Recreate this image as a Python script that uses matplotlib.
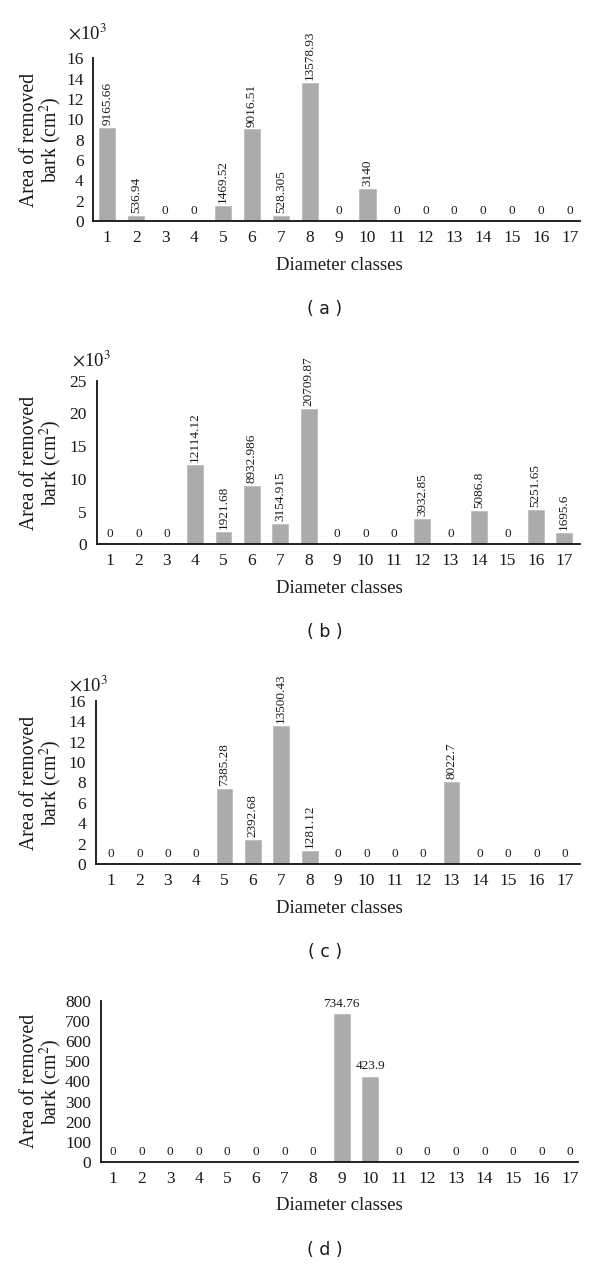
import matplotlib
matplotlib.use("Agg")
import matplotlib.pyplot as plt

plt.rcParams["mathtext.fontset"] = "stix"

# ---- data ----
classes = list(range(1, 18))
area_a = [9165.66, 536.94, 0, 0, 1469.52, 9016.51, 528.305, 13578.93, 0, 3140, 0, 0, 0, 0, 0, 0, 0]
area_b = [0, 0, 0, 12114.12, 1921.68, 8932.986, 3154.915, 20709.87, 0, 0, 0, 3932.85, 0, 5086.8, 0, 5251.65, 1695.6]
area_c = [0, 0, 0, 0, 7385.28, 2392.68, 13500.43, 1281.12, 0, 0, 0, 0, 8022.7, 0, 0, 0, 0]
area_d = [0, 0, 0, 0, 0, 0, 0, 0, 734.76, 423.9, 0, 0, 0, 0, 0, 0, 0]
panel_labels = ["( a )", "( b )", "( c )", "( d )"]
ylims = [16, 25, 16, 800]
yticks_list = [list(range(0, 17, 2)), list(range(0, 26, 5)), list(range(0, 17, 2)), list(range(0, 801, 100))]
scaled = [True, True, True, False]

W, H = 600, 1266
fig = plt.figure(figsize=(W / 100, H / 100), dpi=100)
serif = "Liberation Serif"
TXT = "#1a1a1a"

# pixel geometry: left, right, top, bottom of axes; xlim
geom = [
    (93.3, 580, 58.3, 221.0, (0.516, 17.35)),
    (96.7, 580, 380.7, 544.3, (0.531, 17.56)),
    (95.7, 580, 700.7, 864.3, (0.461, 17.53)),
    (100.7, 578, 1000.7, 1162.0, (0.569, 17.28)),
]
mult_pos = [(68, 33), (72, 360), (69, 685), None]

datasets = [area_a, area_b, area_c, area_d]

for i, (vals, (l, r, t, b, xl)) in enumerate(zip(datasets, geom)):
    ax = fig.add_axes([l / W, 1 - b / H, (r - l) / W, (b - t) / H])
    yv = [v / 1000 for v in vals] if scaled[i] else vals
    ax.bar(classes, yv, width=0.56, color="#ABABAB", edgecolor="#BDBDBD", linewidth=0.6, zorder=2)
    ax.set_xlim(*xl)
    ax.set_ylim(0, ylims[i])
    ax.set_xticks(classes)
    ax.set_xticklabels([str(c) for c in classes], fontfamily=serif, fontsize=12.5, color=TXT)
    ax.set_yticks(yticks_list[i])
    ax.set_yticklabels([str(v) for v in yticks_list[i]], fontfamily=serif, fontsize=12.5, color=TXT)
    ax.tick_params(axis="both", length=0)
    ax.tick_params(axis="x", pad=6.5)
    ax.tick_params(axis="y", pad=7)
    for s in ["top", "right"]:
        ax.spines[s].set_visible(False)
    for s in ["left", "bottom"]:
        ax.spines[s].set_linewidth(1.3)
        ax.spines[s].set_color("#111111")
    ax.patch.set_alpha(0)

    # value labels
    for c, v, h in zip(classes, vals, yv):
        lab = "{:.10g}".format(v)
        if v == 0 or not scaled[i]:
            ax.annotate(lab, (c, h), xytext=(0, 3), textcoords="offset points",
                        ha="center", va="bottom", fontfamily=serif, fontsize=9.5, color=TXT)
        else:
            ax.annotate(lab, (c, h), xytext=(0, 2), textcoords="offset points",
                        ha="center", va="bottom", rotation=90, fontfamily=serif,
                        fontsize=9.5, color=TXT)

    # y label (two lines)
    yc = (t + b) / 2
    fig.text(30 / W, 1 - yc / H, "Area of removed", rotation=90, ha="center", va="center",
             fontfamily=serif, fontsize=14.2, color=TXT)
    fig.text(50.5 / W, 1 - yc / H, "bark (cm$^{2}$)", rotation=90, ha="center", va="center",
             fontfamily=serif, fontsize=14.2, color=TXT)

    if mult_pos[i] is not None:
        mx, my = mult_pos[i]
        fig.text(mx / W, 1 - my / H, r"$\times$10$^{3}$", ha="left", va="center",
                 fontfamily=serif, fontsize=13.5, color=TXT)

    # x label and panel label
    fig.text(339 / W, 1 - (b + 44) / H, "Diameter classes", ha="center", va="center",
             fontfamily=serif, fontsize=13.5, color=TXT)
    fig.text(325 / W, 1 - (b + 88) / H, panel_labels[i], ha="center", va="center",
             fontfamily="DejaVu Sans", fontsize=12.5, color=TXT)

fig.savefig("out.png", dpi=100, facecolor="white")
